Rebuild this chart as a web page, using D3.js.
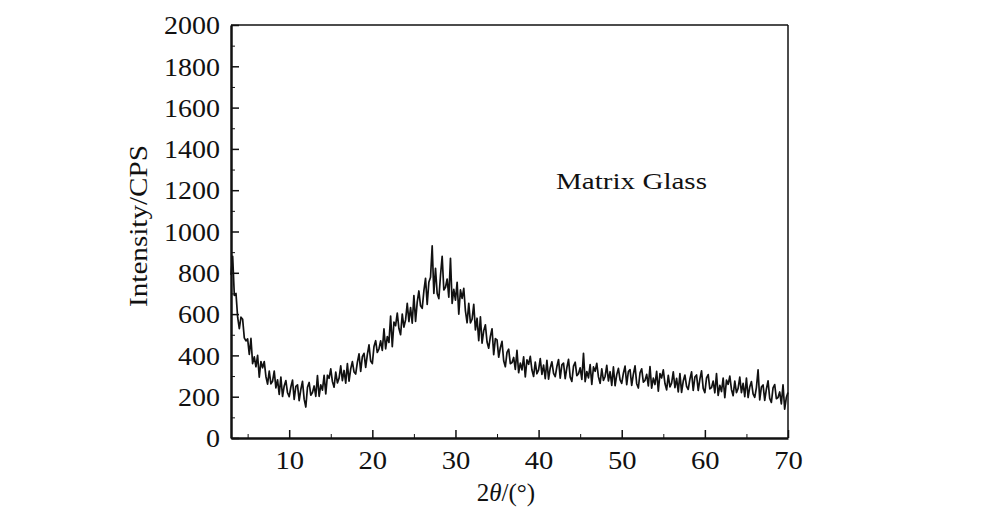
<!DOCTYPE html>
<html>
<head>
<meta charset="utf-8">
<script src="https://cdn.jsdelivr.net/npm/d3@7"></script>
<style>
  html, body { margin: 0; padding: 0; background: #fff; }
  svg { display: block; }
  text { font-family: "Liberation Serif", "Times New Roman", serif; fill: #111; }
</style>
</head>
<body>
<svg id="chart" width="1004" height="531"></svg>
<script>
// ---- data ----
const xStart = 3;          // first 2θ value
const xStep = 0.2;         // 2θ step between readings
const intensity = [
  790, 880, 690, 700, 585,   530, 585, 575, 485, 470,   480, 405, 482, 360, 393,   345, 400, 295, 370, 340,
  370, 298, 261, 324, 262,   275, 324, 243, 282, 211,   295, 201, 252, 278, 219,   200, 247, 280, 187, 250,
  257, 181, 235, 274, 188,   150, 246, 269, 207, 220,   252, 202, 302, 202, 257,   232, 303, 213, 304, 289,
  335, 273, 246, 319, 267,   290, 349, 278, 327, 266,   360, 275, 335, 370, 320,   310, 366, 407, 323, 394,
  410, 342, 404, 451, 373,   360, 443, 471, 414, 432,   470, 424, 528, 432, 491,   463, 590, 442, 561, 544,
  605, 530, 500, 600, 537,   572, 652, 564, 632, 556,   690, 565, 658, 712, 640,   628, 712, 773, 647, 754,
  778, 930, 700, 822, 700,   675, 787, 880, 717, 730,   770, 682, 870, 652, 720,   668, 754, 600, 717, 676,
  725, 615, 558, 652, 557,   575, 647, 523, 580, 471,   587, 459, 520, 548, 465,   435, 492, 529, 404, 481,
  475, 391, 437, 468, 374,   345, 415, 430, 360, 365,   390, 332, 424, 316, 363,   330, 393, 296, 379, 357,
  395, 329, 298, 367, 311,   330, 384, 308, 353, 287,   376, 285, 339, 369, 313,   297, 346, 380, 290, 354,
  363, 287, 341, 381, 295,   274, 348, 367, 302, 311,   340, 284, 410, 273, 322,   291, 355, 259, 344, 323,
  362, 296, 265, 335, 279,   298, 352, 276, 321, 255,   344, 253, 307, 337, 281,   265, 314, 348, 258, 322,
  331, 255, 309, 349, 263,   242, 316, 335, 270, 279,   308, 252, 346, 241, 290,   259, 323, 227, 312, 291,
  330, 264, 233, 303, 247,   266, 320, 244, 289, 223,   312, 221, 276, 305, 250,   235, 285, 320, 230, 295,
  305, 230, 285, 325, 240,   220, 291, 307, 238, 244,   276, 219, 312, 206, 255,   225, 290, 195, 280, 260,
  300, 235, 205, 275, 220,   240, 295, 220, 265, 200,   290, 196, 247, 273, 214,   197, 244, 330, 184, 247,
  257, 182, 237, 277, 192,   172, 243, 259, 190, 196,   223, 165, 257, 140, 196,   220
];
const xTicks = [10, 20, 30, 40, 50, 60, 70];
const xMinorTicks = [5, 15, 25, 35, 45, 55, 65];
const yTicks = [0, 200, 400, 600, 800, 1000, 1200, 1400, 1600, 1800, 2000];
const yMinorTicks = [100, 300, 500, 700, 900, 1100, 1300, 1500, 1700, 1900];
const xDomain = [3, 70];
const yDomain = [0, 2000];
const yTitle = "Intensity/CPS";
const annotation = "Matrix Glass";

// ---- layout ----
const L = 231, R = 788, T = 25, B = 438;
const svg = d3.select("#chart");
const x = d3.scaleLinear().domain(xDomain).range([L, R]);
const y = d3.scaleLinear().domain(yDomain).range([B, T]);

const pts = intensity.map((v, i) => [xStart + i * xStep, v]);

// data line
svg.append("path")
  .datum(pts)
  .attr("fill", "none")
  .attr("stroke", "#111")
  .attr("stroke-width", 1.7)
  .attr("stroke-linejoin", "round")
  .attr("d", d3.line().x(d => x(d[0])).y(d => y(d[1])));

// frame: top/right thin
svg.append("line").attr("x1", L).attr("x2", R).attr("y1", T).attr("y2", T)
  .attr("stroke", "#111").attr("stroke-width", 1.5);
svg.append("line").attr("x1", R).attr("x2", R).attr("y1", T).attr("y2", B)
  .attr("stroke", "#111").attr("stroke-width", 1.5);

// bottom axis
const gx = svg.append("g").attr("transform", `translate(0,${B})`)
  .call(d3.axisBottom(x).tickValues(xTicks).tickSizeInner(-8).tickSizeOuter(0).tickPadding(0).tickFormat(d3.format("d")));
svg.append("g").attr("transform", `translate(0,${B})`)
  .call(d3.axisBottom(x).tickValues(xMinorTicks).tickSizeInner(-4).tickSizeOuter(0).tickFormat(""))
  .call(g => g.select(".domain").remove());
gx.select(".domain").attr("stroke-width", 2.5);
gx.selectAll(".tick line").attr("stroke-width", 1.5);
gx.selectAll(".tick text")
  .attr("y", 31)
  .attr("dy", null)
  .attr("x", 0)
  .style("font-size", "26px")
  .attr("transform", "scale(1.1,1)");

// left axis
const gy = svg.append("g").attr("transform", `translate(${L},0)`)
  .call(d3.axisLeft(y).tickValues(yTicks).tickSizeInner(-8).tickSizeOuter(0).tickPadding(11).tickFormat(d3.format("d")));
svg.append("g").attr("transform", `translate(${L},0)`)
  .call(d3.axisLeft(y).tickValues(yMinorTicks).tickSizeInner(-4).tickSizeOuter(0).tickFormat(""))
  .call(g => g.select(".domain").remove());
gy.select(".domain").attr("stroke-width", 2.5);
gy.selectAll(".tick line").attr("stroke-width", 1.5);
gy.selectAll(".tick text")
  .attr("x", -11 / 1.12)
  .attr("dy", "0.35em")
  .style("font-size", "25px")
  .attr("transform", "scale(1.12,1)");

svg.selectAll(".tick text").attr("fill", "#111").attr("font-family", null);
svg.selectAll(".domain, .tick line").attr("stroke", "#111");

// y title
svg.append("text")
  .attr("transform", `translate(147,226) rotate(-90)`)
  .attr("text-anchor", "middle")
  .attr("textLength", 162)
  .attr("lengthAdjust", "spacingAndGlyphs")
  .style("font-size", "25px")
  .text(yTitle);

// x title with italic theta
const xt = svg.append("text")
  .attr("x", 506).attr("y", 501)
  .attr("text-anchor", "middle")
  .style("font-size", "25px");
xt.append("tspan").text("2");
xt.append("tspan").style("font-style", "italic").text("θ");
xt.append("tspan").text("/(°)");

// annotation
svg.append("text")
  .attr("x", 556).attr("y", 189)
  .attr("textLength", 151)
  .attr("lengthAdjust", "spacingAndGlyphs")
  .style("font-size", "23px")
  .text(annotation);
</script>
</body>
</html>
